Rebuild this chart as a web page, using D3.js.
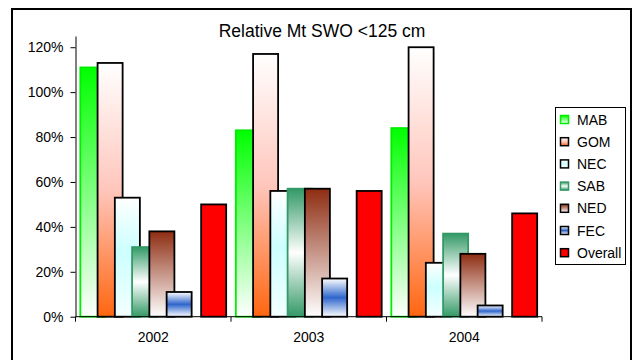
<!DOCTYPE html>
<html>
<head>
<meta charset="utf-8">
<script src="https://cdn.jsdelivr.net/npm/d3@7"></script>
<style>
  body { margin: 0; background: #fff; }
  text { font-family: "Liberation Sans", Arial, sans-serif; fill: #000; }
</style>
</head>
<body>
<svg width="637" height="360"></svg>
<script>
// data
const years = ["2002", "2003", "2004"];
const series = ["MAB", "GOM", "NEC", "SAB", "NED", "FEC", "Overall"];
const MAB = [1.11, 0.83, 0.84];
const GOM = [1.13, 1.17, 1.20];
const NEC = [0.53, 0.56, 0.24];
const SAB = [0.31, 0.57, 0.37];
const NED = [0.38, 0.57, 0.28];
const FEC = [0.11, 0.17, 0.05];
const Overall = [0.50, 0.56, 0.46];
const yTicks = [0, 0.2, 0.4, 0.6, 0.8, 1.0, 1.2];

const values = [MAB, GOM, NEC, SAB, NED, FEC, Overall];
// slot index per series (there is an empty slot before "Overall")
const slot = [0, 1, 2, 3, 4, 5, 7];

const svg = d3.select("svg");
const defs = svg.append("defs");

// gradient fills, one per series
const grads = [
  { id: "gMAB", stops: [[0, "#00ff00"], [1, "#ffffff"]], stroke: "#00ee00" },
  { id: "gGOM", stops: [[0, "#ffffff"], [0.5, "#ffc6bc"], [1, "#ff6610"]], stroke: "#000" },
  { id: "gNEC", stops: [[0, "#ffffff"], [0.45, "#ccffff"], [1, "#f4ffff"]], stroke: "#000" },
  { id: "gSAB", stops: [[0, "#339966"], [0.5, "#ffffff"], [1, "#339966"]], stroke: "#339966" },
  { id: "gNED", stops: [[0, "#8e2d12"], [1, "#ffffff"]], stroke: "#000" },
  { id: "gFEC", stops: [[0, "#ffffff"], [0.5, "#2f66cc"], [1, "#ffffff"]], stroke: "#000" },
  { id: null, stops: null, fill: "#ff0000", stroke: "#000" }
];
grads.forEach(g => {
  if (!g.id) return;
  const lg = defs.append("linearGradient").attr("id", g.id)
    .attr("x1", 0).attr("y1", 0).attr("x2", 0).attr("y2", 1);
  g.stops.forEach(s => lg.append("stop").attr("offset", s[0]).attr("stop-color", s[1]));
  g.fill = "url(#" + g.id + ")";
});

// outer frame
svg.append("rect")
  .attr("x", 12).attr("y", 9)
  .attr("width", 619).attr("height", 360)
  .attr("fill", "none").attr("stroke", "#000").attr("stroke-width", 2);

svg.append("text")
  .attr("x", 322).attr("y", 37)
  .attr("text-anchor", "middle")
  .style("font-size", "17.5px")
  .text("Relative Mt SWO <125 cm");

const x = d3.scaleBand().domain(years).range([75.5, 542]).padding(0);
const y = d3.scaleLinear().domain([0, 1.25]).range([316.7, 36]);

const bw = x.bandwidth();
const barW = bw * 0.161, step = bw * 0.111;
const span = 7 * step + barW;
const off = (bw - span) / 2;

// bars, later series on top
const g = svg.append("g");
series.forEach((s, i) => {
  g.append("g")
    .selectAll("rect")
    .data(values[i])
    .join("rect")
    .attr("x", (d, j) => x(years[j]) + off + slot[i] * step)
    .attr("y", d => y(d))
    .attr("width", barW)
    .attr("height", d => y(0) - y(d))
    .attr("fill", grads[i].fill)
    .attr("stroke", grads[i].stroke)
    .attr("stroke-width", 1.8);
});

// y axis
const yAxis = svg.append("g")
  .attr("transform", "translate(75.5,0)")
  .call(d3.axisLeft(y).tickValues(yTicks).tickFormat(d3.format(".0%"))
    .tickSize(5).tickPadding(7).tickSizeOuter(0));
yAxis.select(".domain").attr("stroke", "#000");
yAxis.selectAll("text").style("font-size", "14px").attr("fill", "#000");

// x axis, ticks between categories
const xAxis = svg.append("g")
  .attr("transform", "translate(0," + y(0) + ")");
xAxis.append("line")
  .attr("x1", 75.5).attr("x2", 542)
  .attr("stroke", "#000");
xAxis.selectAll(".tk")
  .data(years.concat([null]))
  .join("line")
  .attr("x1", (d, i) => 75.5 + i * bw)
  .attr("x2", (d, i) => 75.5 + i * bw)
  .attr("y1", 0).attr("y2", 5)
  .attr("stroke", "#000");
xAxis.selectAll("text")
  .data(years)
  .join("text")
  .attr("x", d => x(d) + bw / 2)
  .attr("y", 25)
  .attr("text-anchor", "middle")
  .style("font-size", "14px")
  .text(d => d);

// legend
const leg = svg.append("g");
leg.append("rect")
  .attr("x", 555.5).attr("y", 107.5)
  .attr("width", 70).attr("height", 157)
  .attr("fill", "#fff").attr("stroke", "#000");
series.forEach((s, i) => {
  const cy = 119.5 + i * 22.2;
  leg.append("rect")
    .attr("x", 560.5).attr("y", cy - 4)
    .attr("width", 8).attr("height", 8)
    .attr("fill", grads[i].fill)
    .attr("stroke", i === 0 ? "#00ee00" : (i === 3 ? "#339966" : "#000"))
    .attr("stroke-width", 1.5);
  const t = leg.append("text")
    .attr("x", 577).attr("y", cy + 5)
    .style("font-size", "14px")
    .text(s);
  // keep long labels inside the box
  const tw = t.node().getComputedTextLength();
  if (577 + tw > 623) t.attr("x", 623 - tw);
});
</script>
</body>
</html>
